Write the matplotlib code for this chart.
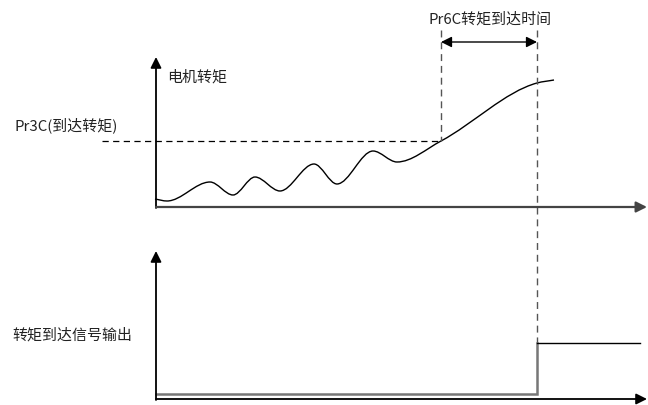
import matplotlib
matplotlib.use("Agg")
import matplotlib.pyplot as plt
import numpy as np
from matplotlib.path import Path
from matplotlib.patches import PathPatch

plt.rcParams['font.family'] = ['Noto Sans CJK SC', 'DejaVu Sans']

# diagram drawn in pixel space of the 648x405 picture (y grows downward)
W, H = 648, 405

# torque curve: start, the peaks/troughs, level crossing, end
torque_x = [155, 167, 210, 233, 255, 280, 314, 337, 373, 397, 441, 537, 554]
torque_y = [199, 201, 182, 195, 177, 191, 164, 184, 151, 162, 141, 83, 80]

level_y = 141          # Pr3C level
t_reach = 441          # torque reaches level
t_signal = 537         # signal switches on
signal_low, signal_high = 394, 343
signal_end = 640

labels = {
    'time': 'Pr6C转矩到达时间',
    'torque': '电机转矩',
    'level': 'Pr3C(到达转矩)',
    'signal': '转矩到达信号输出',
}


def smooth_path(xs, ys):
    # monotone cubic tangents, drawn by matplotlib as bezier segments
    x = np.asarray(xs, float)
    y = np.asarray(ys, float)
    d = np.diff(y) / np.diff(x)
    m = np.zeros_like(y)
    m[0], m[-1] = d[0], d[-1]
    for i in range(1, len(x) - 1):
        if d[i - 1] * d[i] > 0:
            m[i] = 2 / (1 / d[i - 1] + 1 / d[i])
    verts = [(x[0], y[0])]
    codes = [Path.MOVETO]
    for i in range(len(x) - 1):
        h = (x[i + 1] - x[i]) / 3
        verts += [(x[i] + h, y[i] + m[i] * h),
                  (x[i + 1] - h, y[i + 1] - m[i + 1] * h),
                  (x[i + 1], y[i + 1])]
        codes += [Path.CURVE4] * 3
    return Path(verts, codes)


fig = plt.figure(figsize=(6.48, 4.05), dpi=100)
ax = fig.add_axes([0, 0, 1, 1])
ax.set_xlim(0, W)
ax.set_ylim(H, 0)
ax.axis('off')

arrow = dict(arrowstyle='-|>', mutation_scale=16, color='black', lw=1.3,
             shrinkA=0, shrinkB=0)

# top panel axes
ax.annotate('', xy=(156, 57), xytext=(156, 208), arrowprops=arrow)
ax.annotate('', xy=(647, 207), xytext=(156, 207),
            arrowprops=dict(arrow, color='#444444', lw=1.6))

# torque curve
ax.add_patch(PathPatch(smooth_path(torque_x, torque_y), fill=False,
                       edgecolor='black', lw=1.0))

# dashed guides
dash = (0, (5, 3.5))
ax.plot([102, t_reach], [level_y, level_y], color='black', lw=0.9, ls=dash)
ax.plot([t_reach, t_reach], [30, level_y], color='#555555', lw=1.0, ls=dash)
ax.plot([t_signal, t_signal], [30, signal_high], color='#555555', lw=1.0, ls=dash)

# time span arrow
ax.annotate('', xy=(t_signal, 42), xytext=(t_reach, 42),
            arrowprops=dict(arrowstyle='<|-|>', mutation_scale=16, color='black',
                            lw=1.0, shrinkA=0, shrinkB=0))

# bottom panel axes
ax.annotate('', xy=(156, 251), xytext=(156, 400), arrowprops=arrow)
ax.annotate('', xy=(647, 399), xytext=(156, 399), arrowprops=arrow)

# signal output
ax.plot([156, t_signal, t_signal], [signal_low, signal_low, signal_high],
        color='#777777', lw=1.8, solid_joinstyle='miter')
ax.plot([t_signal, signal_end], [signal_high, signal_high], color='black', lw=1.0)

# labels
fs = 10.8
txt = dict(fontsize=fs, fontweight='light', color='#222222')
ax.text(490, 19, labels['time'], ha='center', va='center', **txt)
ax.text(167, 77, labels['torque'], ha='left', va='center', **txt)
ax.text(14, 125, labels['level'], ha='left', va='center', **txt)
ax.text(12, 335, labels['signal'], ha='left', va='center', **txt)

fig.savefig('out.png', dpi=100)
